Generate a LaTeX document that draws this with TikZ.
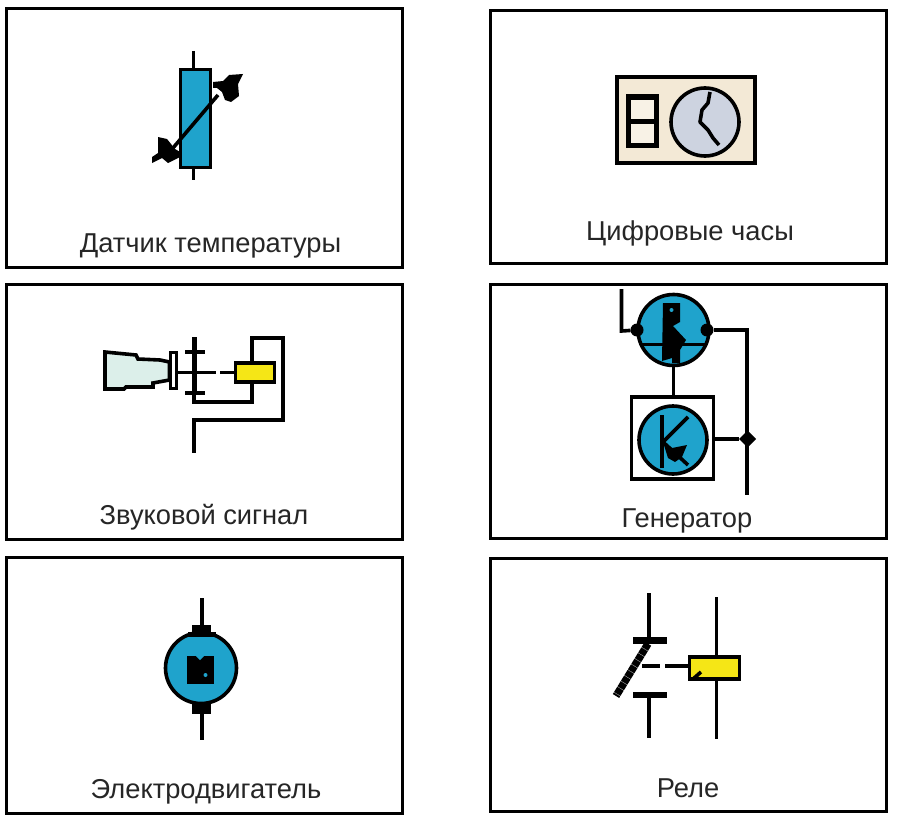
\documentclass[tikz,border=0pt]{standalone}
\usepackage{fontspec}
\setmainfont{Liberation Sans}
\usetikzlibrary{positioning, shapes.geometric}
\definecolor{wireblue}{HTML}{1FA3CC}
\definecolor{coilyellow}{HTML}{F5E616}
\definecolor{clockbeige}{HTML}{F3E9D6}
\definecolor{clockface}{HTML}{CDD3E0}
\definecolor{hornfill}{HTML}{DCEFEA}

\begin{document}
\begin{tikzpicture}[x=1pt, y=-1pt, outer sep=0pt, inner sep=0pt,
	p/.style={draw, line width=3pt, fill=white, minimum width=396pt},
	t/.style={font=\fontsize{27.3}{30}\selectfont, text=black!85},
	b/.style={draw, line width=3.6pt},
	w/.style={line width=3.6pt},
	r/.style={circle, draw, line width=3.6pt, fill=wireblue, minimum width=71pt},
	d/.style={circle, fill=black, minimum width=13pt},
	k/.style={fill=black}]
		\useasboundingbox (0,0) rectangle (900,816);

		\node[p, minimum height=258pt] (P1) at (204,138) {};
		\node[p, minimum height=252pt] (P2) at (688,137) {};
		\node[p, minimum height=255pt] (P3) at (204,411.5) {};
		\node[p, minimum height=254pt] (P4) at (688,411) {};
		\node[p, minimum height=256pt] (P5) at (204,685) {};
		\node[p, minimum height=253pt] (P6) at (688,684.5) {};

		\node[t] (P1_label) at (210.5,245.5) {Датчик температуры};
		\node[t] (P2_label) at (690,233.5) {Цифровые часы};
		\node[t] (P3_label) at (204,517.5) {Звуковой сигнал};
		\node[t] (P4_label) at (687,521) {Генератор};
		\node[t] (P5_label) at (206,791.5) {Электродвигатель};
		\node[t] (P6_label) at (688,788) {Реле};

		\node[b, fill=wireblue, minimum width=30pt, minimum height=98pt] (S) at (195.5,118.5) {};
		\coordinate (S_top) at (193.5,51);
		\coordinate (S_bot) at (193.5,180);
		\coordinate (S_a) at (173,148);
		\coordinate (S_b) at (218,95);
		\path[w, draw] (S_top) -- (S_top|-S.north) (S_bot|-S.south) -- (S_bot);
		\draw[w] (S_a) -- (S_b);
		\fill[k] (213,82) -- (223,81) -- (229,75) -- (243,74) -- (238,84) -- (239,96) -- (231,102) -- (225,100) -- (222,92) -- (217,88) -- (213,88) -- cycle;
		\fill[k] (158,137) -- (167,139) -- (175,149) -- (180,152) -- (180,157) -- (168,163) -- (162,158) -- (152,163) -- (152,157) -- (158,153) -- cycle;

		\node[b, fill=clockbeige, minimum width=138pt, minimum height=86pt] (C) at (686,120) {};
		\node[draw, line width=5pt, fill=clockbeige!60, minimum width=28pt, minimum height=24pt] (C_up) at (642.5,109) {};
		\node[draw, line width=5pt, fill=clockbeige!60, minimum width=28pt, minimum height=24pt, below=0pt of C_up] (C_low) {};
		\node[r, fill=clockface, minimum width=68pt] (C_face) at (705,122) {};
		\draw[w, line join=round] (710,92) -- (708,103) -- (702,110) -- (700,122) -- (708,130) -- (713,138) -- (719,145);

		\node[b, fill=coilyellow, minimum width=39pt, minimum height=19pt] (H_coil) at (255,372.5) {};
		\node[draw, line width=3pt, fill=white, minimum width=6pt, minimum height=36pt] (H_collar) at (173,370.5) {};
		\draw[b, fill=hornfill] (105,352) -- (136,355) -- (138,359) -- (160,360) -- (169.5,362) -- (169.5,380) -- (153,383) -- (153,387) -- (126,387) -- (124,389) -- (105,389) -- cycle;
		\coordinate (H_top) at (194,337);
		\coordinate (H_mid) at (194,372.5);
		\coordinate (H_low) at (194,402);
		\coordinate (H_gap_a) at (216,372.5);
		\coordinate (H_gap_b) at (220,372.5);
		\coordinate (H_c) at (252,402);
		\coordinate (H_d) at (252,338);
		\coordinate (H_e) at (283,338);
		\coordinate (H_f) at (283,420);
		\coordinate (H_g) at (194,420);
		\coordinate (H_end) at (194,453);
		\draw[line width=5pt] (H_top) -- (194,393);
		\draw[w] (194,393) -- (H_low) -- (H_c) -- (H_c|-H_coil.south);
		\draw[w] (H_d|-H_coil.north) -- (H_d) -- (H_e) -- (H_f) -- (H_g) -- (H_end);
		\draw[w] (H_collar.east|-H_mid) -- (H_mid) -- (H_gap_a);
		\draw[w] (H_gap_b) -- (H_gap_b-|H_coil.west);
		\draw[w] (185,352) -- (205,352);
		\draw[w] (185,393) -- (205,393);

		\node[r] (G_up) at (673.5,330) {};
		\node[b, minimum width=82pt, minimum height=82pt] (G_box) at (672.5,438) {};
		\node[r, minimum width=68pt] (G_low) at (673,440) {};
		\node[d] (G_in) at (637,330) {};
		\node[d] (G_out) at (707,330) {};
		\node[k, diamond, minimum width=17pt, minimum height=17pt] (G_j) at (747.5,439) {};
		\coordinate (G_a) at (621.5,289);
		\coordinate (G_b) at (621.5,331);
		\coordinate (G_c) at (747,330);
		\coordinate (G_d) at (747,495);
		\draw[w] (G_a) -- (G_b) -- (G_in);
		\draw[w] (G_out) -- (G_c) -- (G_d);
		\draw[w] (G_up.south) -- (G_up|-G_box.north);
		\draw[w] (G_box.east|-G_j) -- (G_j);
		\draw[w] (640,344.5) -- (705,344.5);
		\fill[k] (663,303) -- (680,303) -- (680,322) -- (673,326) -- (686,340) -- (680,350) -- (680,363) -- (672,363) -- (672,358) -- (662,361) -- cycle;
		\fill[wireblue] (671.5,310) circle (2pt);
		\draw[line width=4pt] (662,415) -- (662,468);
		\draw[w] (663,442) -- (688,417);
		\draw[w] (663,442) -- (688,465);
		\fill[k] (663,442) -- (672,448) -- (687,445) -- (682,457) -- (675,462) -- (668,458) -- cycle;
		\fill[k] (668,477) rectangle (682,481);

		\node[r, minimum width=71pt] (M) at (201,668) {};
		\node[k, minimum width=19pt, minimum height=10pt] (M_up) at (201.5,630) {};
		\node[k, minimum width=28pt, minimum height=5pt] (M_neck) at (201.5,634) {};
		\node[k, minimum width=19pt, minimum height=11pt] (M_low) at (201.5,708.5) {};
		\node[k, minimum width=27pt, minimum height=28pt] (M_core) at (200.5,670) {};
		\coordinate (M_top) at (202,598);
		\coordinate (M_bot) at (202,740);
		\draw[w] (M_top) -- (M_top|-M_up.north);
		\draw[w] (M_bot|-M_low.south) -- (M_bot);
		\fill[wireblue] (205.5,675) circle (2pt);
		\fill[wireblue] (196,656) -- (204,656) -- (200,660) -- cycle;

		\node[b, fill=coilyellow, minimum width=50pt, minimum height=22pt] (R) at (714.5,668) {};
		\node[k, minimum width=34pt, minimum height=6.5pt] (R_up) at (650,640.5) {};
		\node[k, minimum width=34pt, minimum height=6.5pt] (R_low) at (650,695) {};
		\coordinate (R_a) at (649,593);
		\coordinate (R_b) at (649,738);
		\coordinate (R_c) at (716.5,597);
		\coordinate (R_d) at (716.5,739);
		\coordinate (R_e) at (642,666);
		\coordinate (R_f) at (660,666);
		\coordinate (R_g) at (665,666);
		\coordinate (R_h) at (616,696);
		\draw[w] (R_a) -- (R_a|-R_up.north);
		\draw[w] (R_b|-R_low.south) -- (R_b);
		\draw[w] (R_c) -- (R_c|-R.north);
		\draw[w] (R_d|-R.south) -- (R_d);
		\draw[w] (R_e) -- (R_f);
		\draw[w] (R_g) -- (R_g-|R.west);
		\draw[line width=7.5pt, dash pattern=on 6pt off 0.6pt] (R_up) -- (R_h);
		\draw[w] (693,679) -- (701,672);
	\end{tikzpicture}
\end{document}
